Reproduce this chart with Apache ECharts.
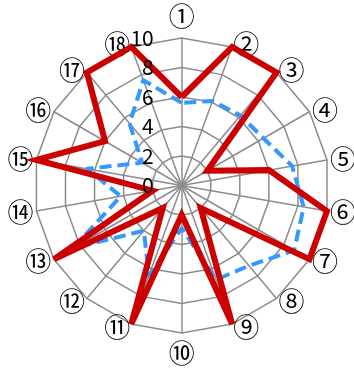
<!DOCTYPE html>
<html>
<head>
<meta charset="utf-8">
<script src="https://cdn.jsdelivr.net/npm/echarts@6/dist/echarts.min.js"></script>
<style>
  html, body { margin: 0; padding: 0; background: #fff; }
  #chart { width: 354px; height: 369px; }
</style>
</head>
<body>
<div id="chart"></div>
<script>
// Axis names, listed clockwise from the top
const categories = ['①','②','③','④','⑤','⑥','⑦','⑧','⑨','⑩','⑪','⑫','⑬','⑭','⑮','⑯','⑰','⑱'];
// Scale ticks drawn on the top axis
const tickLabels = [0, 2, 4, 6, 8, 10];
// Solid red series
const redValues = [6, 10, 10, 2, 6, 10, 10, 2, 10, 2, 10, 2, 10, 2, 10, 6, 10, 10];
// Dashed blue series
const blueValues = [5.6, 6.1, 6.2, 6.4, 7.6, 8.4, 8.8, 7.1, 6.8, 2.9, 6.5, 4.0, 8.5, 4.2, 6.5, 3.1, 5.5, 7.6];

// ECharts lays radar indicators out counter-clockwise, so walk the lists
// in reverse (keeping the first one on top) to get a clockwise layout.
const order = [0];
for (let i = categories.length - 1; i >= 1; i--) order.push(i);

// Gap between the outer ring and each name: the vertical ones sit a bit
// farther out, the side ones hug the ring.
function gapFor(i) {
  if (i === 0) return 9;
  if (i === 9) return 7;
  return 3;
}

const axisMax = tickLabels[tickLabels.length - 1];
const CENTER = [181.7, 185.5];
const RADIUS = 147.5;

// Main grid with the axis names
const gridIndicator = order.map(function (i) {
  return { name: categories[i], min: tickLabels[0], max: axisMax, nameGap: gapFor(i) };
});

// Overlay grid that only prints the scale on the top axis, above the lines
const scaleIndicator = order.map(function (i, k) {
  const ind = { name: '', min: tickLabels[0], max: axisMax };
  if (k === 0) {
    ind.axisLabel = {
      show: true,
      margin: 28,
      color: '#000',
      fontSize: 21,
      fontFamily: 'Noto Sans CJK JP',
      formatter: function (v) { return String(v); }
    };
  }
  return ind;
});

const chart = echarts.init(document.getElementById('chart'), null, { renderer: 'canvas' });
chart.setOption({
  animation: false,
  backgroundColor: '#fff',
  radar: [
    {
      center: CENTER,
      radius: RADIUS,
      startAngle: 90,
      shape: 'polygon',
      splitNumber: tickLabels.length - 1,
      indicator: gridIndicator,
      nameGap: 3,
      axisName: {
        color: '#000',
        fontSize: 26,
        fontFamily: 'Noto Sans CJK JP'
      },
      axisLabel: { show: false },
      axisTick: { show: false },
      axisLine: { lineStyle: { color: '#8c8c8c', width: 1.5 } },
      splitLine: { lineStyle: { color: '#8c8c8c', width: 1.5 } },
      splitArea: { show: false }
    },
    {
      center: CENTER,
      radius: RADIUS,
      startAngle: 90,
      shape: 'polygon',
      splitNumber: tickLabels.length - 1,
      indicator: scaleIndicator,
      z: 10,
      axisName: { show: false },
      axisLabel: { show: false },
      axisTick: { show: false },
      axisLine: { show: false },
      splitLine: { show: false },
      splitArea: { show: false }
    }
  ],
  series: [{
    type: 'radar',
    radarIndex: 0,
    symbol: 'none',
    data: [
      {
        value: order.map(function (i) { return blueValues[i]; }),
        lineStyle: { color: '#3399ff', width: 4, type: [12, 6] },
        itemStyle: { color: '#3399ff' }
      },
      {
        value: order.map(function (i) { return redValues[i]; }),
        lineStyle: { color: '#cc0000', width: 6, join: 'miter' },
        itemStyle: { color: '#cc0000' }
      }
    ]
  }]
});
</script>
</body>
</html>
